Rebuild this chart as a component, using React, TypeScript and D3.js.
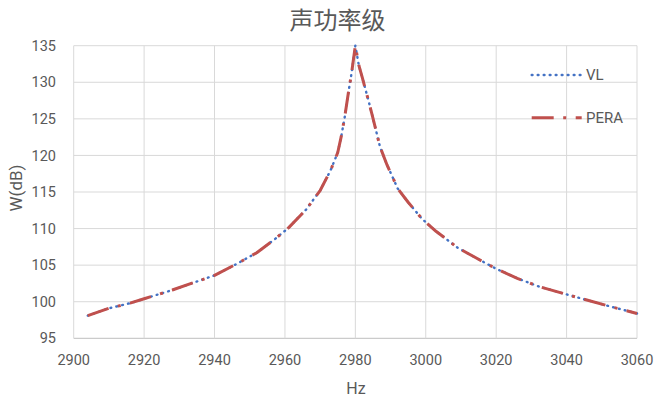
import React from "react";
import * as d3 from "d3";

const title = "声功率级";
const xTitle = "Hz";
const yTitle = "W(dB)";
const seriesNames = ["VL", "PERA"];

const hz = [2904, 2910, 2916, 2920, 2928, 2934, 2940, 2946, 2952, 2957, 2961, 2966, 2970, 2973, 2975, 2976, 2977, 2978, 2979, 2980, 2981, 2982, 2984, 2985, 2987, 2989, 2992, 2995, 2999, 3003, 3009, 3015, 3020, 3026, 3032, 3040, 3046, 3052, 3060];
const vlValues = [98.1, 99.1, 99.8, 100.4, 101.6, 102.6, 103.6, 105.1, 106.7, 108.5, 110.1, 112.6, 115.2, 118.0, 120.4, 122.6, 125.3, 128.5, 131.5, 135.0, 132.3, 130.6, 127.0, 125.1, 121.2, 118.7, 115.5, 113.6, 111.3, 109.6, 107.4, 105.8, 104.5, 103.2, 102.1, 101.0, 100.2, 99.4, 98.4];
const peraValues = [98.1, 99.1, 99.8, 100.4, 101.6, 102.6, 103.6, 105.1, 106.7, 108.5, 110.1, 112.6, 115.2, 118.0, 120.4, 122.6, 125.3, 128.5, 131.5, 135.0, 132.3, 130.6, 127.0, 125.1, 121.2, 118.7, 115.5, 113.6, 111.3, 109.6, 107.4, 105.8, 104.5, 103.2, 102.1, 101.0, 100.2, 99.4, 98.4];

const xTicks = [2900, 2920, 2940, 2960, 2980, 3000, 3020, 3040, 3060];
const yTicks = [95, 100, 105, 110, 115, 120, 125, 130, 135];

const W = 662;
const H = 401;
const TEXT = "#595959";
const GRID = "#D9D9D9";
const BLUE = "#4472C4";
const RED = "#C0504D";
const FONT = "Roboto, 'Liberation Sans', sans-serif";

export default function App() {
  const x = d3.scaleLinear().domain([2900, 3060]).range([73.7, 637]);
  const y = d3.scaleLinear().domain([95, 135]).range([338.3, 45.7]);

  const line = d3
    .line<[number, number]>()
    .x((d) => x(d[0]))
    .y((d) => y(d[1]));

  const vlPath = line(hz.map((h, i) => [h, vlValues[i]]) as [number, number][]) || "";
  const peraPath = line(hz.map((h, i) => [h, peraValues[i]]) as [number, number][]) || "";

  const [x0, x1] = x.range();
  const [y0, y1] = y.range();

  return (
    <svg
      width={W}
      height={H}
      style={{ position: "absolute", left: 0, top: 0, background: "#fff", display: "block" }}
    >
      <rect x={0} y={0} width={W} height={H} fill="#fff" />
      {yTicks.map((t) => (
        <line key={"gy" + t} x1={x0} x2={x1} y1={y(t)} y2={y(t)} stroke={t === 95 ? "#BFBFBF" : GRID} strokeWidth={1} />
      ))}
      {xTicks.map((t) => (
        <line key={"gx" + t} x1={x(t)} x2={x(t)} y1={y0} y2={y1} stroke={GRID} strokeWidth={1} />
      ))}
      {yTicks.map((t) => (
        <text key={"ty" + t} x={56} y={y(t)} dy="0.35em" textAnchor="end" fill={TEXT} fontFamily={FONT} fontSize={14.5}>
          {t}
        </text>
      ))}
      {xTicks.map((t) => (
        <text key={"tx" + t} x={x(t)} y={360} dy="0.35em" textAnchor="middle" fill={TEXT} fontFamily={FONT} fontSize={14.5}>
          {t}
        </text>
      ))}
      <text x={356} y={388} dy="0.35em" textAnchor="middle" fill={TEXT} fontFamily={FONT} fontSize={16}>
        {xTitle}
      </text>
      <text
        transform={`translate(16,${(y0 + y1) / 2 - 4}) rotate(-90)`}
        dy="0.35em"
        textAnchor="middle"
        fill={TEXT}
        fontFamily={FONT}
        fontSize={17}
      >
        {yTitle}
      </text>
      <text x={337.5} y={21} dy="0.35em" textAnchor="middle" fill={TEXT} fontFamily="'Noto Sans CJK SC', sans-serif" fontSize={24}>
        {title}
      </text>
      <path d={vlPath} fill="none" stroke={BLUE} strokeWidth={2.4} strokeDasharray="0.8 5.2" strokeLinecap="round" strokeLinejoin="round" />
      <path d={peraPath} fill="none" stroke={RED} strokeWidth={3} strokeDasharray="22 9.5 3 9.5" strokeLinecap="butt" strokeLinejoin="round" />
      <line x1={531.7} x2={581.7} y1={75} y2={75} stroke={BLUE} strokeWidth={2.4} strokeDasharray="0.8 5.2" strokeLinecap="round" />
      <text x={586} y={75} dy="0.35em" fill={TEXT} fontFamily={FONT} fontSize={15}>
        {seriesNames[0]}
      </text>
      <line x1={531.7} x2={581.7} y1={117.7} y2={117.7} stroke={RED} strokeWidth={3} strokeDasharray="22 9.5 3 9.5" />
      <text x={586} y={117.7} dy="0.35em" fill={TEXT} fontFamily={FONT} fontSize={15}>
        {seriesNames[1]}
      </text>
    </svg>
  );
}
